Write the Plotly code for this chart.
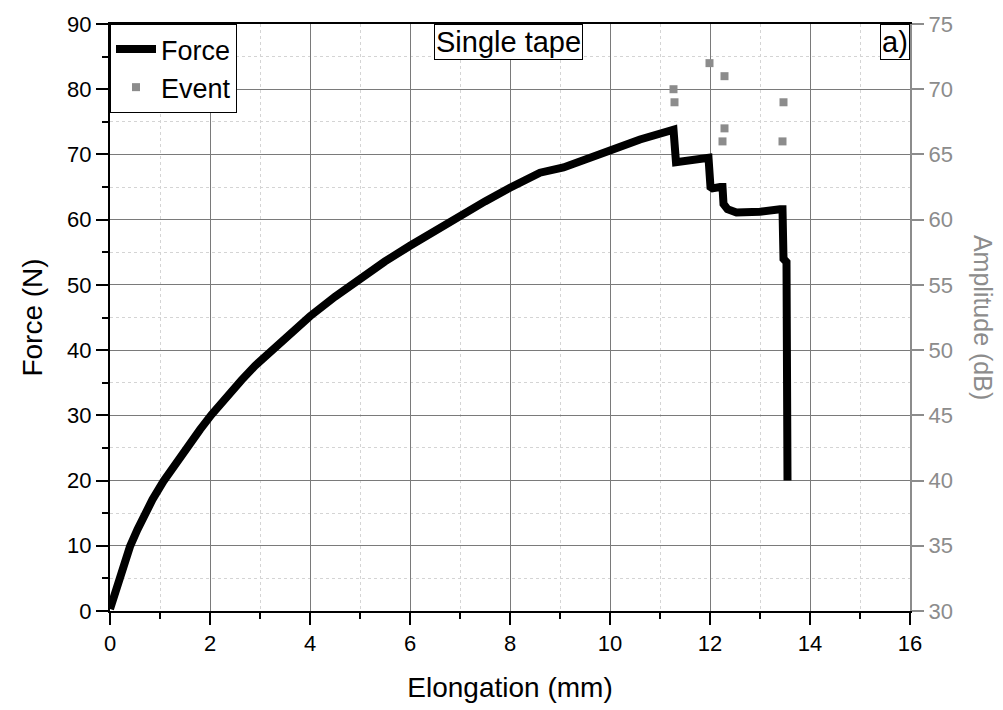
import plotly.graph_objects as go

# Force curve (Elongation mm, Force N)
force_x = [0.0, 0.02, 0.10, 0.17, 0.25, 0.40, 0.55, 0.70, 0.85, 1.07, 1.30, 1.53, 1.80,
           2.03, 2.30, 2.63, 2.90, 3.30, 3.60, 4.00, 4.50, 5.00, 5.50, 6.00, 6.50,
           7.00, 7.50, 8.00, 8.30, 8.60, 9.07, 9.27, 10.00, 10.60, 11.20, 11.27,
           11.32, 11.60, 11.97, 12.01, 12.05, 12.20, 12.25, 12.27, 12.35, 12.53,
           13.00, 13.40, 13.45, 13.47, 13.53, 13.55]
force_y = [0.3, 0.8, 3.2, 5.0, 6.9, 9.9, 12.5, 14.9, 17.1, 19.9, 22.5, 25.0, 27.8,
           30.1, 32.6, 35.4, 37.6, 40.5, 42.6, 45.2, 48.2, 51.0, 53.6, 56.0, 58.35,
           60.6, 62.8, 64.9, 66.1, 67.2, 68.0, 68.5, 70.6, 72.3, 73.6, 73.8,
           68.8, 69.1, 69.5, 65.0, 64.8, 65.0, 65.0, 62.4, 61.6, 61.1,
           61.2, 61.6, 61.6, 54.0, 53.5, 20.0]

# Acoustic events (Elongation mm, Amplitude dB)
event_x = [11.27, 11.29, 11.99, 12.29, 12.29, 12.25, 13.47, 13.45]
event_y = [70, 69, 72, 71, 67, 66, 69, 66]

GRAY = "#8c8c8c"
FONT = "Arial, Liberation Sans, sans-serif"

fig = go.Figure()
fig.add_trace(go.Scatter(x=force_x, y=force_y, mode="lines", name="Force",
                         line=dict(color="black", width=8)))
fig.add_trace(go.Scatter(x=event_x, y=event_y, mode="markers", name="Event", yaxis="y2",
                         marker=dict(symbol="square", size=8, color=GRAY)))

fig.update_layout(
    width=1003, height=710,
    margin=dict(l=110, r=93, t=21, b=98),
    paper_bgcolor="white", plot_bgcolor="white",
    font=dict(family=FONT, size=22, color="black"),
    showlegend=True,
    legend=dict(x=0, y=1, xanchor="left", yanchor="top",
                bordercolor="black", borderwidth=1, bgcolor="white",
                font=dict(size=27), itemwidth=40, tracegroupgap=0),
    xaxis=dict(range=[0, 16], dtick=2, tick0=0, showline=True, linecolor="black",
               linewidth=2, mirror=True, ticks="outside", ticklen=12, tickwidth=2,
               tickcolor="black", showgrid=True, gridcolor="#7a7a7a", gridwidth=1,
               zeroline=False,
               minor=dict(dtick=1, ticks="outside", ticklen=6, tickwidth=2,
                          tickcolor="black", showgrid=True, gridcolor="#d4d4d4",
                          griddash="dot", gridwidth=1),
               title=dict(text="Elongation (mm)", font=dict(size=28), standoff=22),
               tickfont=dict(size=22)),
    yaxis=dict(range=[0, 90], dtick=10, tick0=0, showline=True, linecolor="black",
               linewidth=2, ticks="outside", ticklen=12, tickwidth=2,
               tickcolor="black", showgrid=True, gridcolor="#7a7a7a", gridwidth=1,
               zeroline=False,
               minor=dict(dtick=5, ticks="outside", ticklen=6, tickwidth=2,
                          tickcolor="black", showgrid=True, gridcolor="#d4d4d4",
                          griddash="dot", gridwidth=1),
               title=dict(text="Force (N)", font=dict(size=28), standoff=16),
               tickfont=dict(size=22)),
    yaxis2=dict(range=[30, 75], dtick=5, tick0=30, overlaying="y", side="right",
                showline=True, linecolor=GRAY, linewidth=2, ticks="outside",
                ticklen=12, tickwidth=2, tickcolor=GRAY, showgrid=False,
                zeroline=False, tickfont=dict(size=22, color=GRAY)),
    annotations=[
        dict(text="Single tape", x=7.96, xref="x", y=1, yref="paper",
             xanchor="center", yanchor="top", showarrow=False,
             font=dict(size=29, color="black"), bordercolor="black",
             borderwidth=1, bgcolor="white", borderpad=1),
        dict(text="a)", x=1, xref="paper", y=1, yref="paper",
             xanchor="right", yanchor="top", showarrow=False,
             font=dict(size=29, color="black"), bordercolor="black",
             borderwidth=1, bgcolor="white", borderpad=1),
        dict(text="Amplitude (dB)", x=1.092, xref="paper", y=0.50, yref="paper",
             xanchor="center", yanchor="middle", textangle=90, showarrow=False,
             font=dict(size=25, color=GRAY)),
    ],
)

fig.write_html("out.html")
